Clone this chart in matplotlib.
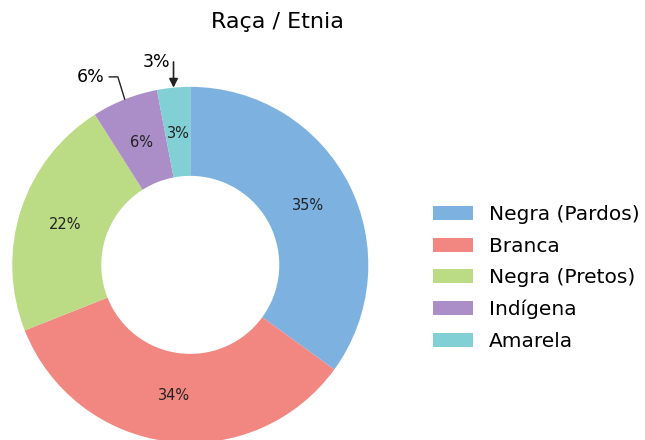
import numpy as np
import matplotlib.pyplot as plt

labels = ["Negra (Pardos)", "Branca", "Negra (Pretos)", "Indígena", "Amarela"]
values = [35, 34, 22, 6, 3]
colors = ["#7db1e0", "#f28781", "#bcdb85", "#ab8dc8", "#80d0d5"]

fig = plt.figure(figsize=(6.45, 4.40), dpi=100)
ax = fig.add_axes([0.019, -0.007, 0.552, 0.81])

wedges, texts, autotexts = ax.pie(
    values,
    colors=colors,
    startangle=90,
    counterclock=False,
    autopct="%1.0f%%",
    pctdistance=0.74,
    wedgeprops=dict(width=0.5, linewidth=0),
    textprops=dict(fontsize=10.5, color="#222222"),
)
ax.set_xlim(-1, 1)
ax.set_ylim(-1, 1)
ax.set_aspect("equal")

# Outside labels for the small slices
def edge_point(w):
    ang = np.deg2rad((w.theta1 + w.theta2) / 2)
    return np.cos(ang), np.sin(ang)

x6, y6 = edge_point(wedges[3])
ax.annotate("6%", xy=(x6, y6), xytext=(-0.48, 1.056), fontsize=12.5,
            ha="right", va="center", annotation_clip=False,
            arrowprops=dict(arrowstyle="-", color="#222222", lw=1,
                            connectionstyle="angle,angleA=0,angleB=107,rad=0",
                            shrinkA=1, shrinkB=0))

x3, y3 = edge_point(wedges[4])
ax.text(-0.11, 1.14, "3%", fontsize=12.5, ha="right", va="center")
ax.annotate("", xy=(x3, y3), xytext=(x3, 1.14), annotation_clip=False,
            arrowprops=dict(arrowstyle="-|>", color="#222222", lw=1.2,
                            shrinkA=0, shrinkB=0, mutation_scale=13))

fig.text(277 / 645, 1 - 22 / 440, "Raça / Etnia", fontsize=16,
         ha="center", va="center")

fig.legend(wedges, labels, loc="center left",
           bbox_to_anchor=(0.643, 0.368), frameon=False, fontsize=14.5,
           handlelength=2.0, handleheight=0.7, labelspacing=0.62,
           handletextpad=0.8)

fig.savefig("out.png", dpi=100)
